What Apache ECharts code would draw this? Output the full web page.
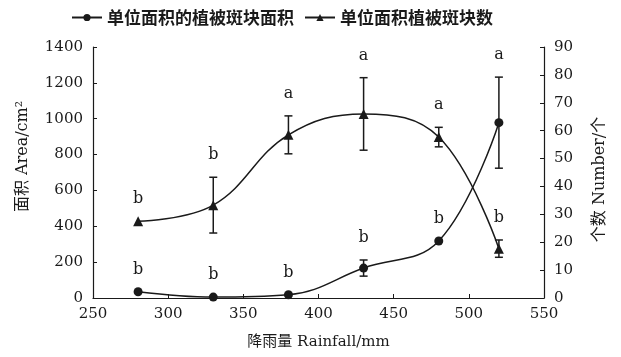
<!DOCTYPE html>
<html><head><meta charset="utf-8">
<script src="https://cdn.jsdelivr.net/npm/echarts@6/dist/echarts.min.js"></script>
<style>html,body{margin:0;padding:0;background:#fff}#c{width:621px;height:357px}</style>
</head><body><div id="c"></div>
<script>
const rainfall = [280, 330, 380, 430, 480, 520];
const areaValues = [35, 5, 18, 167, 318, 978];
const areaErrors = [0, 0, 0, 45, 0, 254];
const areaLetters = ['b', 'b', 'b', 'b', 'b', 'a'];
const countValues = [27.5, 33.3, 58.5, 66, 57.7, 17.7];
const countErrors = [0, 10, 6.8, 13, 3.5, 3.1];
const countLetters = ['b', 'b', 'a', 'a', 'a', 'b'];
const areaName = '单位面积的植被斑块面积';
const countName = '单位面积植被斑块数';

const SERIF = '"DejaVu Serif", "Noto Sans CJK SC", serif';
const CJK = '"Noto Sans CJK SC", sans-serif';
const INK = '#1a1a1a';

function errRender(letters) {
  return function (params, api) {
    const x = api.value(0), y = api.value(1), e = api.value(2);
    const top = api.coord([x, y + e]);
    const bot = api.coord([x, y - e]);
    const children = [];
    const st = { stroke: INK, lineWidth: 1.5 };
    if (e > 0) {
      children.push({ type: 'line', shape: { x1: top[0], y1: top[1], x2: bot[0], y2: bot[1] }, style: st });
      children.push({ type: 'line', shape: { x1: top[0] - 4, y1: top[1], x2: top[0] + 4, y2: top[1] }, style: st });
      children.push({ type: 'line', shape: { x1: bot[0] - 4, y1: bot[1], x2: bot[0] + 4, y2: bot[1] }, style: st });
    }
    children.push({ type: 'text', style: { text: letters[params.dataIndex], x: top[0], y: top[1] - 22,
      align: 'center', verticalAlign: 'middle', font: '16px ' + SERIF, fill: INK } });
    return { type: 'group', children: children };
  };
}

const chart = echarts.init(document.getElementById('c'), null, { renderer: 'canvas' });
const plain = v => String(v);
const axisCommon = {
  axisLine: { show: true, lineStyle: { color: INK, width: 1.2 } },
  axisTick: { show: true, inside: true, length: 4, lineStyle: { color: INK } },
  splitLine: { show: false },
  axisLabel: { color: INK, fontFamily: SERIF, fontSize: 15, formatter: plain },
  nameTextStyle: { color: INK, fontFamily: SERIF, fontSize: 15 }
};
chart.setOption({
  animation: false,
  backgroundColor: '#fff',
  legend: {
    top: 4, left: 66, itemWidth: 30, itemHeight: 9, itemGap: 10,
    data: [areaName, countName],
    textStyle: { fontFamily: CJK, fontSize: 17, color: INK, fontWeight: 'bold' }
  },
  grid: { left: 93, right: 77, top: 47, bottom: 59 },
  xAxis: Object.assign({}, axisCommon, {
    type: 'value', min: 250, max: 550, interval: 50,
    axisLabel: Object.assign({}, axisCommon.axisLabel, { margin: 9 }),
    name: '降雨量 Rainfall/mm', nameLocation: 'middle', nameGap: 37
  }),
  yAxis: [
    Object.assign({}, axisCommon, {
      type: 'value', min: 0, max: 1400, interval: 200, position: 'left',
      axisLabel: Object.assign({}, axisCommon.axisLabel, { margin: 10 }),
      name: '面积 Area/cm²', nameLocation: 'middle', nameGap: 62, nameRotate: 90,
      nameTextStyle: Object.assign({}, axisCommon.nameTextStyle, { fontSize: 16, padding: [0, 0, 0, 32] })
    }),
    Object.assign({}, axisCommon, {
      type: 'value', min: 0, max: 90, interval: 10, position: 'right',
      axisLabel: Object.assign({}, axisCommon.axisLabel, { margin: 10 }),
      name: '个数 Number/个', nameLocation: 'middle', nameGap: 48, nameRotate: 90,
      nameTextStyle: Object.assign({}, axisCommon.nameTextStyle, { fontSize: 16, padding: [0, 14, 0, 0] })
    })
  ],
  series: [
    {
      name: areaName, type: 'line', yAxisIndex: 0, smooth: 0.4,
      symbol: 'circle', symbolSize: 9,
      lineStyle: { color: INK, width: 1.5 }, itemStyle: { color: INK },
      data: rainfall.map((x, i) => [x, areaValues[i]]), z: 3
    },
    {
      name: countName, type: 'line', yAxisIndex: 1, smooth: 0.4,
      symbol: 'triangle', symbolSize: 10,
      lineStyle: { color: INK, width: 1.5 }, itemStyle: { color: INK },
      data: rainfall.map((x, i) => [x, countValues[i]]), z: 3
    },
    {
      type: 'custom', yAxisIndex: 0, renderItem: errRender(areaLetters), z: 2,
      data: rainfall.map((x, i) => [x, areaValues[i], areaErrors[i]])
    },
    {
      type: 'custom', yAxisIndex: 1, renderItem: errRender(countLetters), z: 2,
      data: rainfall.map((x, i) => [x, countValues[i], countErrors[i]])
    }
  ]
});
</script></body></html>
